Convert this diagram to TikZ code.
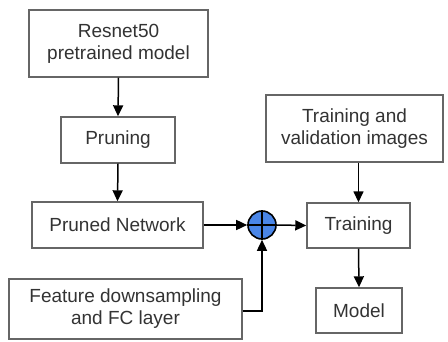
\documentclass[tikz,border=0pt]{standalone}
\usepackage{fontspec}
\setmainfont{Liberation Sans}
\usetikzlibrary{arrows.meta}
\definecolor{boxgray}{HTML}{666666}
\definecolor{txtgray}{HTML}{333333}
\definecolor{sumblue}{HTML}{4A86E8}
\begin{document}
\begin{tikzpicture}[x=1pt,y=-1pt,
  blk/.style={draw=boxgray,line width=1.4pt,fill=white,text=txtgray,align=center,
    font=\fontsize{19}{22}\selectfont,inner sep=0pt},
  conn/.style={draw=black,line width=1.5pt,-{Triangle[length=11pt,width=10pt]}}]
\useasboundingbox (0,0) rectangle (448,341);
\node[blk,minimum width=179pt,minimum height=67pt] (res) at (118.5,43.5) {Resnet50\\pretrained model};
\node[blk,minimum width=114pt,minimum height=46pt] (pru) at (118,140) {Pruning};
\node[blk,minimum width=171pt,minimum height=46pt] (pn) at (117.5,225) {Pruned Network};
\node[blk,minimum width=233pt,minimum height=60pt] (fd) at (125.5,309) {Feature downsampling\\and FC layer};
\node[blk,minimum width=177pt,minimum height=67pt] (tv) at (354.5,128.5) {Training and\\validation images};
\node[blk,minimum width=103pt,minimum height=45pt] (tr) at (358.5,225.5) {Training};
\node[blk,minimum width=86pt,minimum height=45pt] (mo) at (359,310.5) {Model};
\node[circle,draw=black,line width=1.6pt,fill=sumblue,minimum size=28pt,inner sep=0pt] (sum) at (262,225) {};
\draw[line width=1.5pt] (sum.north) -- (sum.south) (sum.west) -- (sum.east);
\coordinate (fk) at (262,311);
\draw[conn] (res.south) -- (pru.north);
\draw[conn] (pru.south) -- (pn.north);
\draw[conn] (pn.east) -- (sum.west);
\draw[conn] (fd.east |- fk) -- (fk) -- (sum.south);
\draw[conn] (sum.east) -- (tr.west);
\draw[conn] (tv.south -| tr.north) -- (tr.north);
\draw[conn] (tr.south) -- (mo.north);
\end{tikzpicture}
\end{document}
